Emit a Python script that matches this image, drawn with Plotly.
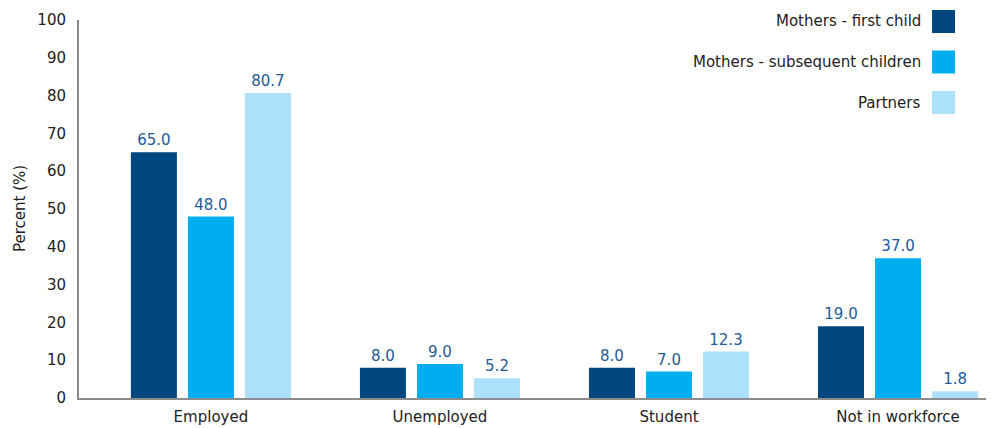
import plotly.graph_objects as go

categories = ["Employed", "Unemployed", "Student", "Not in workforce"]
series_names = ["Mothers - first child", "Mothers - subsequent children", "Partners"]
first_child = [65.0, 8.0, 8.0, 19.0]
subsequent = [48.0, 9.0, 7.0, 37.0]
partners = [80.7, 5.2, 12.3, 1.8]
series_values = [first_child, subsequent, partners]
colors = ["#00467F", "#00AEEF", "#ADE0FA"]
y_ticks = [0, 10, 20, 30, 40, 50, 60, 70, 80, 90, 100]
y_title = "Percent (%)"

FONT = "Verdana, DejaVu Sans, sans-serif"
W, H = 994, 428
OFF = 8  # page body margin
ml, mr, mt, mb = 79 - OFF, OFF, 20 - OFF, 30 + OFF
pw, ph = W - ml - mr, H - mt - mb

fig = go.Figure()
for name, vals, col in zip(series_names, series_values, colors):
    fig.add_trace(go.Bar(
        x=categories, y=vals, name=name, marker=dict(color=col, line=dict(width=0)),
        text=[f"{v:.1f}" for v in vals], textposition="outside",
        textfont=dict(family=FONT, size=15, color="#1F5A96"),
        cliponaxis=False, showlegend=False,
    ))

# manual legend (text left, swatch right); positions in page pixels
annotations = []
shapes = []
for i, (name, col) in enumerate(zip(series_names, colors)):
    cy = 21.5 + i * 40.5
    yp = (398 - cy) / ph
    annotations.append(dict(
        x=(923 - 79) / pw, y=yp, xref="paper", yref="paper", text=name,
        showarrow=False, xanchor="right", yanchor="middle",
        font=dict(family=FONT, size=15, color="#222222"),
    ))
    shapes.append(dict(
        type="rect", xref="paper", yref="paper",
        x0=(932 - 79) / pw, x1=(955 - 79) / pw,
        y0=yp - 11.5 / ph, y1=yp + 11.5 / ph,
        fillcolor=col, line=dict(width=0),
    ))

# y-axis title
annotations.append(dict(
    x=(20 - 79) / pw, y=(398 - 209) / ph, xref="paper", yref="paper",
    text=y_title, textangle=-90, showarrow=False,
    xanchor="center", yanchor="middle",
    font=dict(family=FONT, size=15, color="#222222"),
))

fig.update_layout(
    width=W, height=H,
    margin=dict(l=ml, r=mr, t=mt, b=mb, autoexpand=False),
    paper_bgcolor="white", plot_bgcolor="white",
    barmode="group", bargap=0.253, bargroupgap=0.193,
    font=dict(family=FONT, size=15, color="#222222"),
    annotations=annotations, shapes=shapes,
    xaxis=dict(
        range=[-0.576, 3.419], showgrid=False, zeroline=False,
        showline=True, linecolor="#8C8C8C", linewidth=2,
        ticks="", tickfont=dict(family=FONT, size=15, color="#222222"),
        ticklabelstandoff=4, automargin=False,
    ),
    yaxis=dict(
        range=[0, 100], tickvals=y_ticks, showgrid=False, zeroline=False,
        showline=True, linecolor="#8C8C8C", linewidth=2,
        ticks="", tickfont=dict(family=FONT, size=15, color="#222222"),
        ticklabelstandoff=8, automargin=False,
    ),
)

fig.write_html("out.html")
